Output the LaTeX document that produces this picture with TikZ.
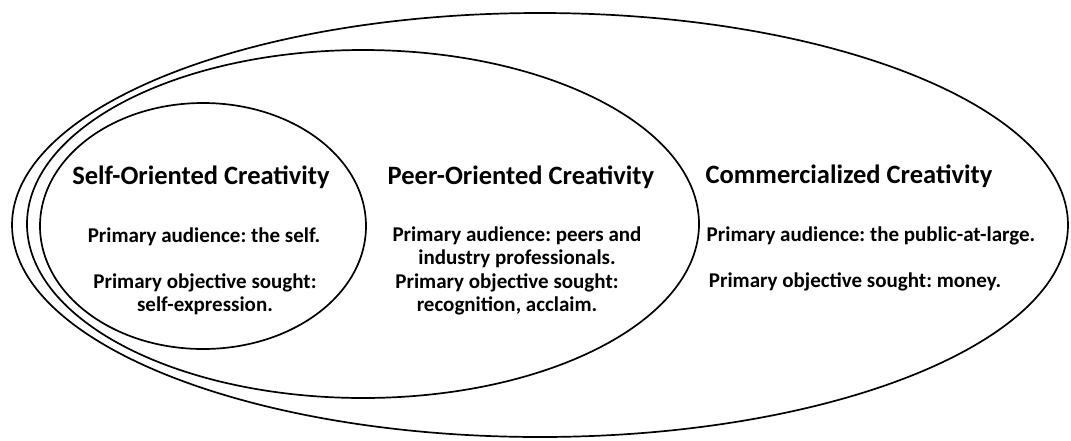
\documentclass[tikz,border=0pt]{standalone}
\usepackage{fontspec}
\setmainfont{Carlito}
\frenchspacing
\begin{document}
\begin{tikzpicture}[x=1pt,y=-1pt,
  ring/.style={draw=black,line width=1.7pt},
  title/.style={font=\fontsize{26.5}{30}\selectfont\bfseries,inner sep=0pt},
  body/.style={font=\fontsize{21}{23}\selectfont\bfseries,inner sep=0pt,align=center}]
\useasboundingbox (0,0) rectangle (1071,440);
% nested circles of creativity
\draw[ring] (540,225) ellipse [x radius=528, y radius=212];
\draw[ring] (363,224) ellipse [x radius=336, y radius=174];
\draw[ring] (203,226) ellipse [x radius=163, y radius=123];
% self-oriented
\node[title] (st) at (201,177) {Self-Oriented Creativity};
\node[body] (sa) at (204,237) {Primary audience: the self.};
\node[body] (so) at (205,294) {Primary objective sought:\\self-expression.};
% peer-oriented
\node[title] (pt) at (521,177) {Peer-Oriented Creativity};
\node[body] (pa) at (517,247) {Primary audience: peers and\\industry professionals.};
\node[body] (po) at (507,294) {Primary objective sought:\\recognition, acclaim.};
% commercialized
\node[title] (ct) at (849,176) {Commercialized Creativity};
\node[body] (ca) at (871,236) {Primary audience: the public-at-large.};
\node[body] (co) at (855,282) {Primary objective sought: money.};
\end{tikzpicture}
\end{document}
